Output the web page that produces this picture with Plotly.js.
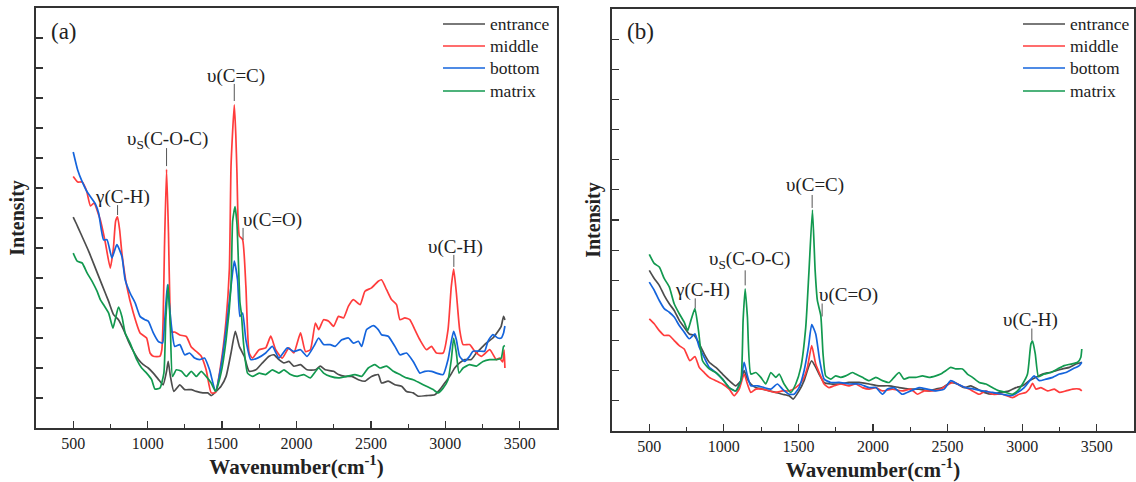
<!DOCTYPE html>
<html>
<head>
<meta charset="utf-8">
<script src="https://cdn.plot.ly/plotly-3.0.1.min.js"></script>
<style>html,body{margin:0;padding:0;background:#fff;}#chart{width:1136px;height:482px;}</style>
</head>
<body>
<div id="chart"></div>
<script>
// ---------- Panel (a) data ----------
const aEntranceX = [500,522,549,604,649,693,738,771,804,838,871,904,938,971,1004,1038,1071,1104,1127,1138,1153,1176,1216,1249,1293,1327,1371,1404,1427,1460,1493,1527,1560,1589,1616,1649,1682,1727,1771,1816,1849,1882,1916,1949,1982,2027,2071,2127,2160,2193,2249,2282,2327,2371,2416,2460,2504,2549,2571,2616,2661,2706,2739,2784,2818,2873,2929,2963,2996,3029,3063,3096,3130,3174,3208,3242,3275,3319,3353,3375,3391,3400];
const aEntranceY = [6.03,5.8,5.5,4.89,4.33,3.78,3.22,2.78,2.61,2.28,1.89,1.56,1.28,1.11,1.0,0.83,0.63,0.44,0.89,1.22,0.72,0.22,0.44,0.28,0.28,0.22,0.17,0.17,0.08,0.22,0.39,0.72,1.5,2.22,1.72,1.39,0.89,0.94,1.17,1.39,1.44,1.28,1.17,1.22,1.06,1.11,0.94,0.94,1.06,0.94,0.89,0.78,0.72,0.72,0.61,0.56,0.72,0.78,0.5,0.56,0.44,0.39,0.22,0.17,0.06,0.08,0.11,0.28,0.5,0.72,1.0,1.17,1.28,1.28,1.5,1.67,1.83,2.0,2.22,2.39,2.72,2.6];

const aMiddleX = [500,530,560,590,616,640,671,682,715,749,770,785,798,812,827,860,904,949,993,1016,1038,1082,1095,1104,1113,1127,1140,1150,1160,1182,1216,1260,1293,1327,1360,1393,1427,1456,1493,1527,1549,1560,1570,1582,1592,1600,1607,1616,1638,1660,1682,1704,1749,1793,1827,1860,1904,1949,1982,2027,2060,2093,2127,2149,2182,2216,2249,2282,2316,2349,2382,2427,2460,2504,2549,2571,2605,2638,2672,2695,2728,2761,2795,2829,2873,2907,2940,2985,3018,3040,3056,3074,3096,3119,3163,3197,3242,3298,3342,3364,3385,3395,3400];
const aMiddleY = [7.38,7.2,7.2,6.9,6.4,6.5,6.1,5.94,5.2,4.33,5.0,5.9,6.04,5.6,4.83,3.72,2.83,2.17,2.0,1.5,1.39,1.39,1.6,2.6,5.0,7.62,5.5,3.0,2.2,2.2,2.1,2.05,1.7,1.55,1.39,0.94,0.17,0.19,1.17,2.6,4.3,7.7,8.8,9.77,8.8,7.5,6.0,5.4,5.28,3.72,1.5,1.33,1.61,1.67,2.06,1.61,1.33,1.67,1.5,2.17,1.55,1.61,2.5,2.28,2.61,2.56,2.39,2.72,2.67,3.06,3.28,3.11,3.56,3.67,3.89,3.94,3.61,3.28,3.11,2.61,2.67,2.61,2.28,1.94,1.61,1.72,1.5,1.5,2.28,3.72,4.3,3.5,2.28,1.78,1.78,1.56,1.39,1.61,1.28,1.33,1.2,1.6,1.0];

const aBottomX = [500,530,560,590,616,649,671,704,727,760,793,827,849,882,916,949,982,1004,1038,1071,1100,1115,1133,1148,1160,1182,1216,1249,1282,1316,1349,1382,1416,1456,1493,1527,1560,1582,1604,1620,1638,1660,1693,1738,1793,1838,1882,1938,1982,2027,2071,2116,2149,2182,2227,2260,2304,2349,2382,2416,2438,2471,2516,2549,2571,2616,2661,2695,2739,2784,2829,2862,2907,2940,2985,3018,3040,3056,3074,3096,3130,3163,3186,3230,3264,3286,3319,3353,3375,3391,3400];
const aBottomY = [8.2,7.6,7.21,6.9,6.71,6.47,6.16,5.27,5.28,4.67,5.11,4.72,3.94,3.5,3.17,2.72,2.61,2.56,2.17,1.89,1.83,2.6,3.78,3.0,2.39,1.72,1.78,1.44,1.5,1.33,1.28,1.33,0.94,0.22,1.06,2.28,3.72,4.56,3.94,2.72,2.83,1.94,1.28,1.33,1.5,1.72,1.33,1.67,1.55,1.61,1.39,1.72,2.0,1.78,1.78,1.72,1.94,2.0,1.83,1.89,1.72,2.28,2.41,2.28,2.11,2.06,1.72,1.44,1.5,1.22,0.83,0.89,0.89,0.83,0.78,1.28,1.89,2.22,1.94,1.39,1.22,1.39,1.56,1.56,1.56,1.89,2.11,2.0,2.0,2.17,2.4];

const aMatrixX = [500,527,560,593,627,660,682,704,738,767,782,804,827,849,882,904,927,960,993,1027,1049,1082,1109,1122,1138,1153,1167,1193,1227,1260,1293,1327,1360,1393,1427,1456,1493,1527,1560,1571,1587,1600,1610,1620,1630,1644,1671,1704,1749,1793,1838,1882,1916,1960,2004,2049,2093,2149,2182,2227,2282,2338,2393,2438,2482,2527,2560,2605,2650,2695,2739,2784,2829,2873,2918,2951,2985,3018,3040,3056,3074,3092,3119,3163,3208,3253,3298,3342,3375,3391,3400];
const aMatrixY = [4.83,4.56,4.5,4.17,3.89,3.56,3.28,3.11,2.83,2.33,2.61,3.03,2.72,2.17,1.83,1.56,1.28,1.0,0.83,0.61,0.3,0.33,0.83,2.61,3.78,2.28,0.72,0.94,0.89,0.72,0.89,0.72,0.89,0.72,0.5,0.22,0.83,1.94,3.72,5.9,6.38,5.8,4.5,3.2,2.8,1.83,0.83,0.72,0.83,0.78,0.94,0.83,0.94,0.78,0.72,0.78,0.67,1.0,0.83,0.72,0.67,0.72,0.78,0.72,1.0,1.11,1.0,1.06,0.89,0.78,0.67,0.61,0.5,0.39,0.28,0.17,0.33,0.61,1.28,2.0,1.5,0.83,1.0,1.11,1.06,1.22,1.28,1.28,1.33,1.72,1.75];

// ---------- Panel (b) data ----------
const bEntranceX = [500,533,567,600,634,667,701,734,768,801,835,868,902,946,991,1036,1080,1114,1136,1158,1181,1214,1259,1304,1348,1393,1438,1464,1504,1538,1567,1589,1616,1638,1672,1717,1772,1839,1907,1974,2041,2108,2175,2242,2309,2376,2421,2466,2521,2566,2611,2656,2700,2745,2801,2857,2913,2958,3003,3048,3093,3138,3182,3227,3272,3317,3361,3400];
const bEntranceY = [4.33,4.06,3.83,3.5,3.22,3.0,2.67,2.44,2.22,2.17,1.89,1.56,1.28,1.11,0.89,0.67,0.5,0.67,1.0,0.72,0.56,0.44,0.39,0.33,0.28,0.22,0.17,0.06,0.33,0.67,1.11,1.33,1.11,0.89,0.61,0.56,0.56,0.61,0.61,0.56,0.5,0.5,0.44,0.39,0.39,0.33,0.39,0.44,0.61,0.56,0.44,0.5,0.39,0.28,0.22,0.28,0.33,0.44,0.5,0.67,0.78,0.89,0.94,1.0,1.06,1.11,1.22,1.28];

const bMiddleX = [500,533,567,600,634,667,701,734,772,806,835,868,902,946,991,1036,1069,1103,1136,1158,1181,1214,1259,1304,1348,1393,1438,1482,1527,1560,1589,1616,1643,1672,1705,1739,1783,1839,1884,1929,1974,2019,2063,2130,2197,2253,2298,2343,2399,2454,2510,2544,2589,2645,2712,2757,2801,2868,2935,2980,3025,3048,3070,3093,3126,3171,3216,3250,3294,3339,3384,3400];
const bMiddleY = [2.72,2.56,2.33,2.17,2.17,2.0,1.83,1.72,1.33,1.47,1.11,0.94,0.78,0.67,0.56,0.39,0.17,0.39,0.89,0.56,0.28,0.39,0.39,0.33,0.28,0.33,0.33,0.44,0.67,1.11,1.83,1.22,0.89,0.56,0.44,0.5,0.56,0.5,0.56,0.44,0.39,0.44,0.33,0.39,0.33,0.39,0.22,0.33,0.33,0.39,0.56,0.61,0.5,0.39,0.22,0.33,0.22,0.22,0.11,0.22,0.28,0.39,0.58,0.39,0.44,0.33,0.39,0.28,0.33,0.39,0.39,0.33];

const bBottomX = [500,533,567,600,634,667,701,734,768,806,835,868,902,946,991,1036,1080,1114,1136,1158,1181,1225,1270,1315,1359,1393,1438,1471,1504,1538,1567,1589,1616,1643,1672,1717,1772,1839,1907,1974,2019,2063,2097,2141,2197,2253,2309,2365,2421,2477,2521,2566,2622,2678,2734,2801,2868,2924,2969,3014,3059,3081,3115,3160,3205,3250,3294,3339,3384,3400];
const bBottomY = [3.94,3.67,3.33,3.06,2.94,2.78,2.5,2.28,2.06,2.22,1.78,1.44,1.11,0.94,0.72,0.44,0.33,0.67,1.28,0.83,0.5,0.5,0.44,0.39,0.56,0.39,0.22,0.22,0.44,1.0,1.78,2.53,2.22,1.33,0.72,0.61,0.61,0.56,0.56,0.44,0.44,0.22,0.39,0.44,0.22,0.33,0.44,0.39,0.33,0.39,0.67,0.56,0.44,0.39,0.33,0.28,0.22,0.17,0.28,0.44,0.72,0.83,0.67,0.72,0.78,0.89,0.94,1.06,1.17,1.28];

const bMatrixX = [500,533,567,600,634,667,701,734,757,779,806,830,857,902,946,991,1036,1080,1114,1129,1143,1158,1181,1214,1248,1281,1315,1348,1371,1404,1449,1482,1516,1549,1571,1594,1612,1627,1650,1665,1683,1717,1750,1783,1817,1862,1884,1929,1974,2019,2063,2108,2141,2175,2208,2242,2287,2332,2376,2421,2454,2488,2521,2555,2600,2633,2667,2712,2757,2801,2846,2891,2935,2969,3003,3036,3059,3070,3088,3110,3148,3193,3238,3282,3327,3372,3393,3400];
const bMatrixY = [4.86,4.56,4.44,4.06,3.78,3.22,2.89,2.61,2.33,2.67,3.06,2.33,1.33,1.06,0.94,0.72,0.44,0.33,0.67,2.67,3.72,2.78,0.89,0.94,0.78,0.56,0.94,0.78,0.89,0.56,0.28,0.56,1.11,2.44,4.33,6.33,4.33,3.33,2.83,1.56,0.83,0.72,0.83,0.78,0.83,0.94,0.89,0.78,0.67,0.78,0.67,0.61,0.78,0.94,0.72,0.78,0.78,0.83,0.78,0.83,0.89,1.0,1.11,1.06,1.06,0.89,0.78,0.61,0.56,0.44,0.33,0.28,0.22,0.33,0.56,0.89,1.89,1.98,1.56,0.8,0.89,0.94,1.06,1.17,1.22,1.28,1.44,1.72];

// ---------- Series names / colours ----------
const seriesNames = ['entrance','middle','bottom','matrix'];
const seriesColors = ['#4d4d4d','#ff3c3c','#1464dc','#12994f'];

// ---------- Peak labels: text, leader x, leader bottom/top, text x, text y ----------
const peakLabelsA = [
  {t:'γ(C-H)',          x:798,  y0:6.1,  y1:6.43,  tx:829,  ty:6.7,  anchor:'center'},
  {t:'υ<sub>S</sub>(C-O-C)', x:1127, y0:7.73, y1:8.33, tx:1131, ty:8.6, anchor:'center'},
  {t:'υ(C=C)',          x:1582, y0:9.9,  y1:10.47, tx:1594, ty:10.73, anchor:'center'},
  {t:'υ(C=O)',          x:1641, y0:5.27, y1:5.67,  tx:1625, ty:5.93, anchor:'left'},
  {t:'υ(C-H)',          x:3057, y0:4.37, y1:4.77,  tx:3070, ty:5.03, anchor:'center'}
];
const peakLabelsB = [
  {t:'γ(C-H)',          x:808,  y0:3.07, y1:3.4,  tx:855,  ty:3.67, anchor:'center'},
  {t:'υ<sub>S</sub>(C-O-C)', x:1143, y0:3.83, y1:4.33, tx:1170, ty:4.67, anchor:'center'},
  {t:'υ(C=C)',          x:1592, y0:6.4,  y1:6.83, tx:1612, ty:7.17, anchor:'center'},
  {t:'υ(C=O)',          x:1659, y0:2.8,  y1:3.23, tx:1625, ty:3.5,  anchor:'left'},
  {t:'υ(C-H)',          x:3065, y0:2.0,  y1:2.4,  tx:3059, ty:2.67, anchor:'center'}
];

const FONT = 'Liberation Serif, Times New Roman, serif';
const W = 1136, H = 482;

const panelA = [[aEntranceX,aEntranceY],[aMiddleX,aMiddleY],[aBottomX,aBottomY],[aMatrixX,aMatrixY]];
const panelB = [[bEntranceX,bEntranceY],[bMiddleX,bMiddleY],[bBottomX,bBottomY],[bMatrixX,bMatrixY]];

const traces = [];
panelA.forEach((d,i)=>traces.push({x:d[0],y:d[1],type:'scatter',mode:'lines',name:seriesNames[i],
  line:{color:seriesColors[i],width:1.7,shape:'spline',smoothing:0.5},xaxis:'x',yaxis:'y',showlegend:false}));
panelB.forEach((d,i)=>traces.push({x:d[0],y:d[1],type:'scatter',mode:'lines',name:seriesNames[i],
  line:{color:seriesColors[i],width:1.7,shape:'spline',smoothing:0.5},xaxis:'x2',yaxis:'y2',showlegend:false}));

function xAxis(dom, anchor){
  return {domain:dom, anchor:anchor, range:[250,3750], tick0:500, dtick:500,
    ticks:'inside', ticklen:7, tickwidth:1.2, tickcolor:'#333',
    minor:{dtick:250, ticks:'inside', ticklen:4, tickcolor:'#333', tickwidth:1.2},
    showline:true, linecolor:'#333', linewidth:1.6, mirror:true, showgrid:false, zeroline:false,
    tickfont:{family:FONT,size:16,color:'#222'},
    title:{text:'<b>Wavenumber(cm<sup>-1</sup>)</b>', font:{family:FONT,size:21,color:'#222'}, standoff:5}};
}
function yAxis(dom, anchor){
  return {domain:dom, anchor:anchor, range:[-1,13], tick0:0, dtick:1,
    ticks:'inside', ticklen:7, tickwidth:1.2, tickcolor:'#333', showticklabels:false,
    showline:true, linecolor:'#333', linewidth:1.6, mirror:true, showgrid:false, zeroline:false,
    title:{text:'<b>Intensity</b>', font:{family:FONT,size:20,color:'#222'}, standoff:4}};
}

const shapes = [], annotations = [];
function addLabels(list, xr, yr){
  list.forEach(p=>{
    shapes.push({type:'line', xref:xr, yref:yr, x0:p.x, x1:p.x, y0:p.y0, y1:p.y1, line:{color:'#555',width:1}});
    annotations.push({xref:xr, yref:yr, x:p.tx, y:p.ty, text:p.t, showarrow:false, xanchor:p.anchor, yanchor:'middle',
      font:{family:FONT,size:19,color:'#222'}});
  });
}
addLabels(peakLabelsA,'x','y');
addLabels(peakLabelsB,'x2','y2');

// Legend drawn in each panel's top-right corner (paper pixel positions)
function addLegend(lineX0, lineX1, textX, rowsY){
  seriesNames.forEach((nm,i)=>{
    const yp = 1 - rowsY[i]/H;
    shapes.push({type:'line', xref:'paper', yref:'paper', x0:lineX0/W, x1:lineX1/W, y0:yp, y1:yp,
      line:{color:seriesColors[i], width:1.6}});
    annotations.push({xref:'paper', yref:'paper', x:textX/W, y:yp, text:nm, showarrow:false,
      xanchor:'left', yanchor:'middle', font:{family:FONT,size:17.5,color:'#222'}});
  });
}
addLegend(443, 485, 488, [24,46,68,91]);
addLegend(1023, 1065, 1068, [24,46,68,91]);

annotations.push({xref:'paper',yref:'paper',x:64/W,y:1-32/H,text:'(a)',showarrow:false,xanchor:'center',yanchor:'middle',font:{family:FONT,size:23,color:'#222'}});
annotations.push({xref:'paper',yref:'paper',x:640/W,y:1-32/H,text:'(b)',showarrow:false,xanchor:'center',yanchor:'middle',font:{family:FONT,size:23,color:'#222'}});

const layout = {
  width:W, height:H, margin:{l:0,r:0,t:0,b:0}, paper_bgcolor:'#fff', plot_bgcolor:'#fff',
  font:{family:FONT,color:'#222'}, showlegend:false,
  xaxis: xAxis([36/W, 557/W], 'y'),
  yaxis: yAxis([1-428/H, 1-8/H], 'x'),
  xaxis2: xAxis([612/W, 1134/W], 'y2'),
  yaxis2: yAxis([1-431/H, 1-9/H], 'x2'),
  shapes:shapes, annotations:annotations
};

Plotly.newPlot('chart', traces, layout, {displayModeBar:false, staticPlot:true});
</script>
</body>
</html>
